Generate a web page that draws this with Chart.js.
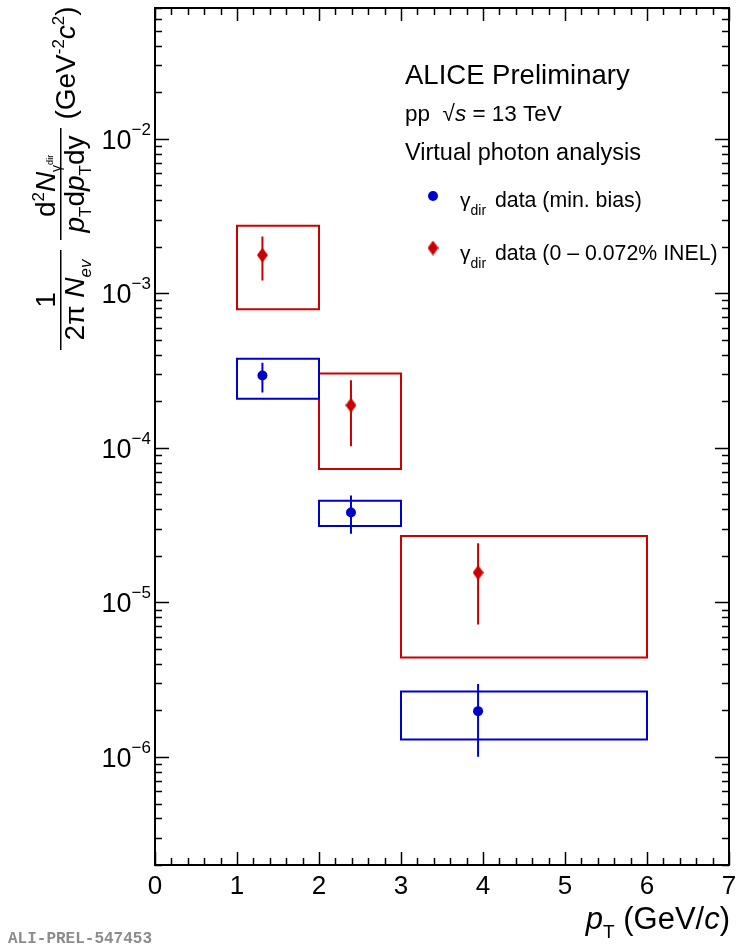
<!DOCTYPE html>
<html>
<head>
<meta charset="utf-8">
<script src="https://cdn.jsdelivr.net/npm/chart.js@4.4.1/dist/chart.umd.min.js"></script>
<style>
  html, body { margin: 0; padding: 0; background: #fff; }
  #wrap { width: 738px; height: 944px; }
</style>
</head>
<body>
<div id="wrap"><canvas id="spectrum" width="738" height="944" style="width:738px;height:944px"></canvas></div>
<script>
// pT bins (GeV/c) and mean pT inside each bin
const ptMean = [1.31, 2.39, 3.94];
const binLo = [1, 2, 3];
const binHi = [2, 3, 6];

// min. bias spectrum: value, stat. band, sys. band
const mbYield  = [2.94e-4, 3.82e-5, 1.98e-6];
const mbStatLo = [2.32e-4, 2.83e-5, 1.02e-6];
const mbStatHi = [3.50e-4, 4.85e-5, 2.92e-6];
const mbSysLo  = [2.08e-4, 3.12e-5, 1.30e-6];
const mbSysHi  = [3.77e-4, 4.55e-5, 2.65e-6];

// high multiplicity (0-0.072% INEL) spectrum
const hmYield  = [1.77e-3, 1.89e-4, 1.56e-5];
const hmStatLo = [1.23e-3, 1.04e-4, 7.3e-6];
const hmStatHi = [2.30e-3, 2.70e-4, 2.38e-5];
const hmSysLo  = [7.9e-4, 7.3e-5, 4.4e-6];
const hmSysHi  = [2.74e-3, 3.03e-4, 2.69e-5];

const xTickLabels = ["0", "1", "2", "3", "4", "5", "6", "7"];
const yDecades = [-6, -5, -4, -3, -2];

const X_MIN = 0, X_MAX = 7;
const Y_MIN = 2e-7, Y_MAX = 0.0703;

const BLUE = "#0000cc";
const RED = "#cc0000";
const FONT = "\"Liberation Sans\", Arial, Helvetica, sans-serif";

function boxPath(ylo, yhi) {
  const pts = [];
  binLo.forEach((x0, i) => {
    const x1 = binHi[i];
    pts.push({ x: x0, y: ylo[i] }, { x: x1, y: ylo[i] }, { x: x1, y: yhi[i] },
             { x: x0, y: yhi[i] }, { x: x0, y: ylo[i] }, { x: x0, y: null });
  });
  return pts;
}

function errPath(lo, hi) {
  const pts = [];
  ptMean.forEach((x, i) => {
    pts.push({ x: x, y: lo[i] }, { x: x, y: hi[i] }, { x: x, y: null });
  });
  return pts;
}

function diamond(color, w, h) {
  const c = document.createElement("canvas");
  c.width = w; c.height = h;
  const g = c.getContext("2d");
  g.fillStyle = color;
  g.beginPath();
  g.moveTo(w / 2, 0); g.lineTo(w, h / 2); g.lineTo(w / 2, h); g.lineTo(0, h / 2);
  g.closePath();
  g.fill();
  return c;
}

const redDiamond = diamond(RED, 11, 15);

function lineSet(data, color, order) {
  return {
    data: data, showLine: true, borderColor: color, backgroundColor: color,
    borderWidth: 2, pointRadius: 0, tension: 0, spanGaps: false,
    borderCapStyle: "square", borderJoinStyle: "miter", order: order
  };
}

// text pieces: [text, size, style, dy]
function runsWidth(ctx, runs) {
  let w = 0;
  runs.forEach(r => {
    ctx.font = (r[2] || "") + " " + r[1] + "px " + FONT;
    w += ctx.measureText(r[0]).width;
  });
  return w;
}

function drawRuns(ctx, runs, x, y, align) {
  let cx = x;
  if (align === "center") cx -= runsWidth(ctx, runs) / 2;
  if (align === "right") cx -= runsWidth(ctx, runs);
  runs.forEach(r => {
    ctx.font = (r[2] || "") + " " + r[1] + "px " + FONT;
    ctx.fillText(r[0], cx, y + (r[3] || 0));
    cx += ctx.measureText(r[0]).width;
  });
}

const framePlugin = {
  id: "rootFrame",
  afterDraw(chart) {
    const ctx = chart.ctx;
    const a = chart.chartArea;
    const xs = chart.scales.x;
    const ys = chart.scales.y;
    ctx.save();
    ctx.strokeStyle = "#000";
    ctx.fillStyle = "#000";

    // axis frame
    ctx.lineWidth = 2;
    ctx.strokeRect(a.left, a.top, a.right - a.left, a.bottom - a.top);

    // x ticks, bottom and top
    ctx.lineWidth = 1.5;
    ctx.beginPath();
    for (let k = 0; k <= 35; k++) {
      const v = X_MIN + k * 0.2;
      const px = Math.round(xs.getPixelForValue(v)) + 0.5;
      const len = k % 5 === 0 ? 13 : 7;
      ctx.moveTo(px, a.bottom); ctx.lineTo(px, a.bottom - len);
      ctx.moveTo(px, a.top); ctx.lineTo(px, a.top + len);
    }
    // y ticks, left and right
    for (let d = -7; d <= -1; d++) {
      for (let m = 1; m <= 9; m++) {
        const v = m * Math.pow(10, d);
        if (v < Y_MIN || v > Y_MAX) continue;
        const py = Math.round(ys.getPixelForValue(v)) + 0.5;
        const len = m === 1 ? 14 : 7;
        ctx.moveTo(a.left, py); ctx.lineTo(a.left + len, py);
        ctx.moveTo(a.right, py); ctx.lineTo(a.right - len, py);
      }
    }
    ctx.stroke();

    // x tick labels
    ctx.textBaseline = "alphabetic";
    ctx.textAlign = "left";
    xTickLabels.forEach((t, i) => {
      drawRuns(ctx, [[t, 26]], xs.getPixelForValue(i), 894, "center");
    });

    // y tick labels
    yDecades.forEach(d => {
      const py = ys.getPixelForValue(Math.pow(10, d));
      drawRuns(ctx, [["10", 27, "", 0], ["\u2212" + (-d), 17, "", -14]], 151, py + 10, "right");
    });

    // x axis title
    drawRuns(ctx, [["p", 31, "italic"], ["T", 19, "", 9], [" (GeV/", 31], ["c", 31, "italic"], [")", 31]],
             730, 929, "right");

    // y axis title, rotated
    ctx.save();
    ctx.rotate(-Math.PI / 2);
    // units
    drawRuns(ctx, [["(GeV", 28], ["-2", 17, "", -11], ["c", 28, "italic"], ["2", 17, "", -11], [")", 28]],
             -63, 75, "center");
    // d2N / (pT dpT dy)
    drawRuns(ctx, [["d", 28], ["2", 17, "", -11], ["N", 28, "italic"], ["\u03b3", 14, "", 6], ["dir", 9, "", -2]],
             -186, 55, "center");
    ctx.fillRect(-240, 60, 112, 1.5);
    drawRuns(ctx, [["p", 28, "italic"], ["T", 17, "", 7], ["d", 28], ["p", 28, "italic"], ["T", 17, "", 7], ["dy", 28]],
             -184, 84, "center");
    // 1 / (2 pi N_ev)
    drawRuns(ctx, [["1", 28]], -300, 55, "center");
    ctx.fillRect(-350, 60, 100, 1.5);
    drawRuns(ctx, [["2\u03c0 ", 28], ["N", 28, "italic"], ["ev", 17, "italic", 7]], -300, 84, "center");
    ctx.restore();

    // header text
    drawRuns(ctx, [["ALICE Preliminary", 27.5]], 405, 84);
    drawRuns(ctx, [["pp  ", 22.5], ["\u221a", 22.5], ["s", 22.5, "italic"], [" = 13 TeV", 22.5]], 405, 121);
    drawRuns(ctx, [["Virtual photon analysis", 23.5]], 405, 160);

    // legend
    ctx.fillStyle = BLUE;
    ctx.beginPath();
    ctx.arc(433, 196, 5, 0, Math.PI * 2);
    ctx.fill();
    ctx.drawImage(redDiamond, 433 - 5.5, 248 - 7.5);
    ctx.fillStyle = "#000";
    drawRuns(ctx, [["\u03b3", 21], ["dir", 14, "", 8]], 460, 207);
    drawRuns(ctx, [["data (min. bias)", 21.3]], 495, 207);
    drawRuns(ctx, [["\u03b3", 21], ["dir", 14, "", 8]], 460, 260);
    drawRuns(ctx, [["data (0 \u2013 0.072% INEL)", 21.3]], 495, 260);

    // figure tag
    ctx.fillStyle = "#8c8c8c";
    ctx.font = "bold 16px \"Liberation Mono\", \"DejaVu Sans Mono\", monospace";
    ctx.fillText("ALI-PREL-547453", 8, 943);
    ctx.restore();
  }
};

new Chart(document.getElementById("spectrum"), {
  type: "scatter",
  data: {
    datasets: [
      {
        data: ptMean.map((x, i) => ({ x: x, y: mbYield[i] })),
        pointStyle: "circle", pointRadius: 5, pointBorderWidth: 0,
        backgroundColor: BLUE, borderColor: BLUE, order: 0
      },
      {
        data: ptMean.map((x, i) => ({ x: x, y: hmYield[i] })),
        pointStyle: redDiamond, pointRadius: 7,
        backgroundColor: RED, borderColor: RED, order: 0
      },
      lineSet(errPath(mbStatLo, mbStatHi), BLUE, 1),
      lineSet(errPath(hmStatLo, hmStatHi), RED, 1),
      lineSet(boxPath(mbSysLo, mbSysHi), BLUE, 2),
      lineSet(boxPath(hmSysLo, hmSysHi), RED, 2)
    ]
  },
  options: {
    responsive: false,
    animation: false,
    layout: { padding: { left: 155, top: 7, right: 9, bottom: 79 } },
    plugins: { legend: { display: false }, tooltip: { enabled: false } },
    scales: {
      x: { type: "linear", min: X_MIN, max: X_MAX, display: false },
      y: { type: "logarithmic", min: Y_MIN, max: Y_MAX, display: false }
    }
  },
  plugins: [framePlugin]
});
</script>
</body>
</html>
